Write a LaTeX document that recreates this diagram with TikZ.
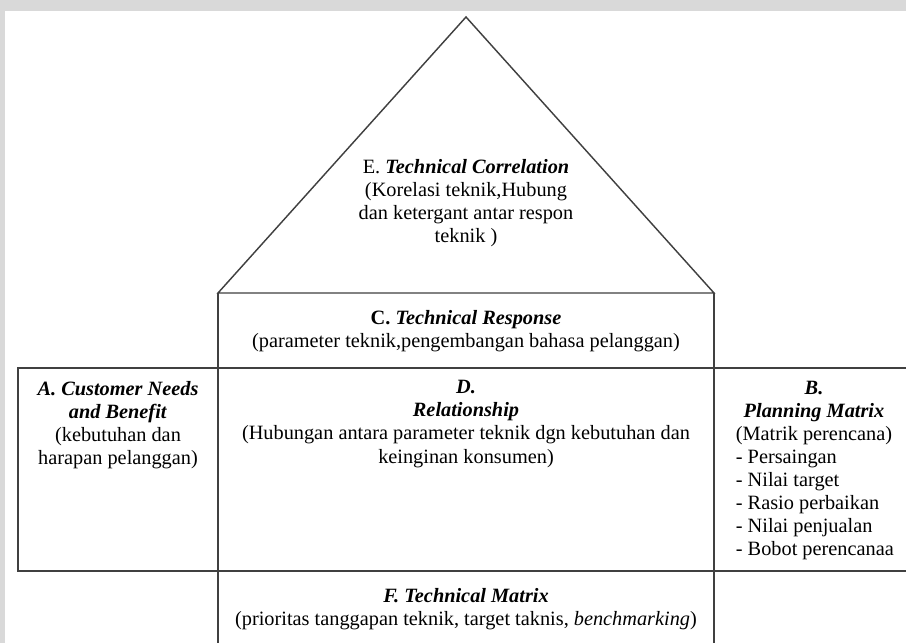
\documentclass[tikz,border=0pt]{standalone}
\usepackage{fontspec}
\setmainfont{Liberation Serif}
\usetikzlibrary{positioning}
\tikzset{
    every node/.style={inner sep=2pt, font=\fontsize{12.7}{14.4}\selectfont},
    wall/.style={draw=black!75, line width=0.9pt},
    lbl/.style={align=center},
    lst/.style={align=left}
}
\newcommand{\bitext}[1]{\textbf{\textit{#1}}}

\begin{document}
\begin{tikzpicture}[x=0.625pt, y=-0.625pt]
    \useasboundingbox (0,0) rectangle (906,643);
    \fill[black!15] (0,0) rectangle (906,643);
    \fill[white] (5,11) rectangle (906,643);

    \coordinate (roof) at (466,17);
    \coordinate (eavel) at (218,293);
    \coordinate (eaver) at (714,293);

    \draw[wall] (eavel) -- (roof) -- (eaver) -- cycle;
    \draw[wall] (eavel) -- (218,643);
    \draw[wall] (eaver) -- (714,643);
    \draw[wall] (906,368) -- (18,368) -- (18,571) -- (906,571);

    \node[lbl] (corr) at (466,203) {E. \bitext{Technical Correlation}\\(Korelasi teknik,Hubung\\dan ketergant antar respon\\teknik )};
    \node[lbl] (resp) at (466,331) {\textbf{C.} \bitext{Technical Response}\\(parameter teknik,pengembangan bahasa pelanggan)};
    \node[lbl] (need) at (118,425) {\bitext{A. Customer Needs}\\\bitext{and Benefit}\\(kebutuhan dan\\harapan pelanggan)};
    \node[lbl] (rel) at (466,424) {\bitext{D.}\\\bitext{Relationship}\\(Hubungan antara parameter teknik dgn kebutuhan dan\\keinginan konsumen)};
    \node[lbl] (plan) at (814,413) {\bitext{B.}\\\bitext{Planning Matrix}\\(Matrik perencana)};
    \node[lst, below right=-1pt and 0pt of plan.south west] (planlist) {- Persaingan\\- Nilai target\\- Rasio perbaikan\\- Nilai penjualan\\- Bobot perencanaa};
    \node[lbl] (tmat) at (466,609) {\bitext{F. Technical Matrix}\\(prioritas tanggapan teknik, target taknis, \textit{benchmarking})};
\end{tikzpicture}
\end{document}
